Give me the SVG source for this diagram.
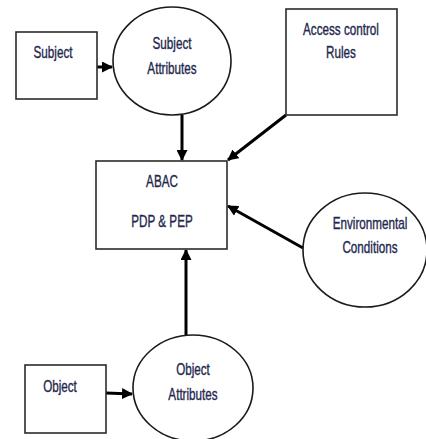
<svg xmlns="http://www.w3.org/2000/svg" width="426" height="439" viewBox="0 0 426 439">
<defs>
<marker id="ah" markerWidth="11" markerHeight="11" refX="10" refY="5.5" orient="auto" markerUnits="userSpaceOnUse">
<path d="M0,0 L11,5.5 L0,11 z" fill="#000"/>
</marker>
<style>
.box{fill:#fff;stroke:#2b2b2b;stroke-width:1.6}
.ell{fill:#fff;stroke:#1a1a1a;stroke-width:1.6}
.lbl{font-family:"Liberation Sans",Arial,sans-serif;font-size:16px;fill:#23274d;stroke:#23274d;stroke-width:0.35;text-anchor:middle}
.con{stroke:#000;stroke-width:3;fill:none;marker-end:url(#ah)}
</style>
</defs>
<rect width="426" height="439" fill="#fff"/>
<g id="connectors">
<line class="con" x1="97" y1="67" x2="112" y2="67"/>
<line class="con" x1="182" y1="115" x2="182" y2="160"/>
<line class="con" x1="286" y1="115" x2="228" y2="160"/>
<line class="con" x1="303" y1="248" x2="228" y2="206"/>
<line class="con" x1="186" y1="335" x2="186" y2="250"/>
<line class="con" x1="106" y1="393" x2="132" y2="394"/>
</g>
<g id="subject">
<rect class="box" x="16" y="32" width="81" height="67"/>
<text class="lbl" transform="translate(53,58) scale(0.73,1)">Subject</text>
</g>
<g id="subject-attributes">
<ellipse class="ell" cx="172" cy="61" rx="59" ry="54"/>
<text class="lbl" transform="translate(172,49) scale(0.73,1)">Subject</text>
<text class="lbl" transform="translate(172,74) scale(0.73,1)">Attributes</text>
</g>
<g id="access-control-rules">
<rect class="box" x="286" y="9" width="111" height="106"/>
<text class="lbl" transform="translate(341,35) scale(0.73,1)">Access control</text>
<text class="lbl" transform="translate(341,58) scale(0.73,1)">Rules</text>
</g>
<g id="abac">
<rect class="box" x="96" y="161" width="131" height="88"/>
<text class="lbl" transform="translate(162,187) scale(0.73,1)">ABAC</text>
<text class="lbl" transform="translate(162,227) scale(0.73,1)">PDP &amp; PEP</text>
</g>
<g id="environmental-conditions">
<ellipse class="ell" cx="365" cy="250" rx="62" ry="57"/>
<text class="lbl" transform="translate(370,229) scale(0.73,1)">Environmental</text>
<text class="lbl" transform="translate(370,253) scale(0.73,1)">Conditions</text>
</g>
<g id="object">
<rect class="box" x="25" y="365" width="81" height="68"/>
<text class="lbl" transform="translate(60,392) scale(0.73,1)">Object</text>
</g>
<g id="object-attributes">
<ellipse class="ell" cx="193" cy="388" rx="60" ry="53"/>
<text class="lbl" transform="translate(193,375) scale(0.73,1)">Object</text>
<text class="lbl" transform="translate(193,400) scale(0.73,1)">Attributes</text>
</g>
</svg>
